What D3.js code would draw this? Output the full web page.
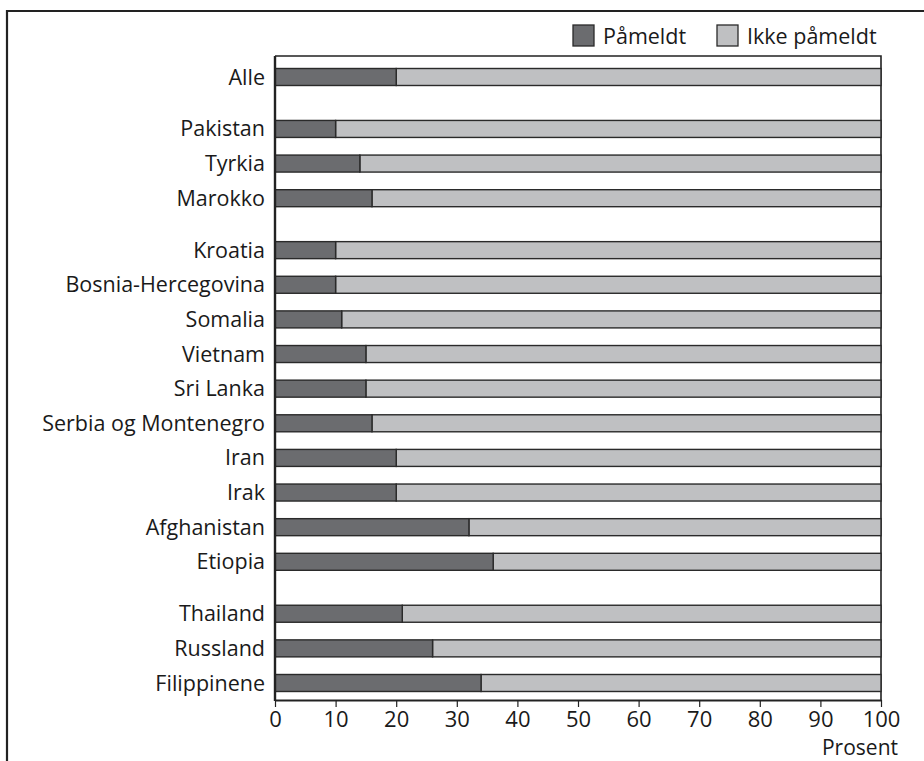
<!DOCTYPE html>
<html>
<head>
<meta charset="utf-8">
<script src="https://cdn.jsdelivr.net/npm/d3@7"></script>
<style>
  body { margin: 0; background: #fff; }
  text { font-family: "Open Sans", "Noto Sans", sans-serif; fill: #1a1a1a; }
</style>
</head>
<body>
<div id="chart"></div>
<script>
// Data: share registered (Påmeldt), remainder is Ikke påmeldt
let countries = ["Alle", "Pakistan", "Tyrkia", "Marokko", "Kroatia", "Bosnia-Hercegovina",
  "Somalia", "Vietnam", "Sri Lanka", "Serbia og Montenegro", "Iran", "Irak",
  "Afghanistan", "Etiopia", "Thailand", "Russland", "Filippinene"];
// group of each row (blank gap between groups)
let groups = [0, 1, 1, 1, 2, 2, 2, 2, 2, 2, 2, 2, 2, 2, 3, 3, 3];
let pameldt = [20, 10, 14, 16, 10, 10, 11, 15, 15, 16, 20, 20, 32, 36, 21, 26, 34];
let xTicks = [0, 10, 20, 30, 40, 50, 60, 70, 80, 90, 100];
let legendLabels = ["Påmeldt", "Ikke påmeldt"];

let width = 924, height = 761;
let margin = ({top: 56, right: 43, bottom: 61, left: 275});
let condensed = "'Liberation Sans Narrow', 'DejaVu Sans Condensed', sans-serif";

let svg = d3.select("#chart").append("svg")
  .attr("width", width).attr("height", height);

// outer frame (top and left edges)
svg.append("path")
  .attr("d", "M7,761 V11 H924")
  .attr("fill", "none").attr("stroke", "#222").attr("stroke-width", 2.2);

let x = d3.scaleLinear().domain([0, 100]).range([margin.left, width - margin.right]);

// row position: index plus half a step per group gap
let rowPos = countries.map((c, i) => i + 0.5 * groups[i]);
let y = d3.scaleLinear().domain([0, d3.max(rowPos)]).range([77, 683]);
let barH = 17;

let colors = ["#6b6c6f", "#bfc0c2"];

// plot box: top and right edges
svg.append("path")
  .attr("d", "M" + x(0) + "," + margin.top + " H" + x(100) + " V" + (height - margin.bottom))
  .attr("fill", "none").attr("stroke", "#222").attr("stroke-width", 1.6);

////////////////////
//   Bars
////////////////////
let rows = svg.append("g").selectAll("g")
  .data(countries)
  .enter().append("g")
  .attr("transform", (d, i) => "translate(0," + (y(rowPos[i]) - barH / 2) + ")");

rows.append("rect")
  .attr("x", (d, i) => x(pameldt[i]))
  .attr("width", (d, i) => x(100) - x(pameldt[i]))
  .attr("height", barH)
  .attr("fill", colors[1])
  .attr("stroke", "#2a2a2a").attr("stroke-width", 1.4);

rows.append("rect")
  .attr("x", x(0))
  .attr("width", (d, i) => x(pameldt[i]) - x(0))
  .attr("height", barH)
  .attr("fill", colors[0])
  .attr("stroke", "#2a2a2a").attr("stroke-width", 1.4);

rows.append("text")
  .attr("x", x(0) - 10)
  .attr("y", barH / 2)
  .attr("dy", "0.35em")
  .attr("text-anchor", "end")
  .attr("font-size", "21.5px")
  .text(d => d);

////////////////////
//   Axes
////////////////////
let xAxis = svg.append("g")
  .attr("transform", "translate(0," + (height - margin.bottom) + ")")
  .call(d3.axisBottom(x).tickValues(xTicks).tickSize(7).tickSizeOuter(0).tickPadding(4));
xAxis.select(".domain").attr("stroke", "#222").attr("stroke-width", 2.2);
xAxis.selectAll(".tick line").attr("stroke", "#222").attr("stroke-width", 1.2);
xAxis.selectAll(".tick text")
  .attr("font-size", "22px")
  .attr("font-family", condensed)
  .attr("fill", "#1a1a1a");

svg.append("line")
  .attr("x1", x(0)).attr("x2", x(0))
  .attr("y1", margin.top).attr("y2", height - margin.bottom + 1)
  .attr("stroke", "#222").attr("stroke-width", 2.4);

svg.append("text")
  .attr("x", x(100) + 17)
  .attr("y", 755)
  .attr("text-anchor", "end")
  .attr("font-size", "21px")
  .attr("font-family", condensed)
  .text("Prosent");

////////////////////
//   Legend
////////////////////
let legendX = [573, 717];
let legend = svg.append("g").selectAll("g")
  .data(legendLabels)
  .enter().append("g")
  .attr("transform", (d, i) => "translate(" + legendX[i] + ",25)");

legend.append("rect")
  .attr("width", 21).attr("height", 21)
  .attr("fill", (d, i) => colors[i])
  .attr("stroke", "#2a2a2a").attr("stroke-width", 1.3);

legend.append("text")
  .attr("x", 30).attr("y", 11)
  .attr("dy", "0.35em")
  .attr("font-size", "21.5px")
  .text(d => d);
</script>
</body>
</html>
